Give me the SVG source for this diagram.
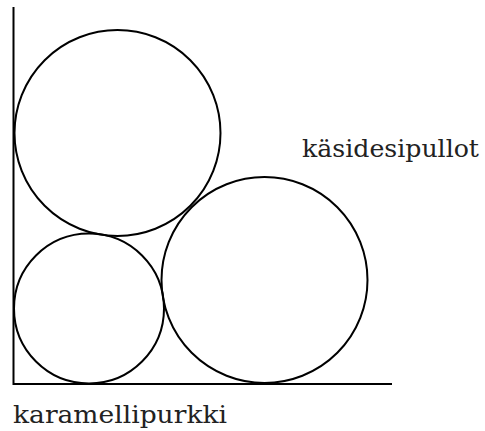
<svg xmlns="http://www.w3.org/2000/svg" width="485" height="431" viewBox="0 0 485 431">
<style>
.c{fill:none;stroke:#000;stroke-width:2}
.ax{fill:none;stroke:#000;stroke-width:2}
.t{font-family:"DejaVu Serif","Liberation Serif",serif;font-size:25px;fill:#222}
</style>
<rect width="485" height="431" fill="#fff"/>
<g id="axes">
<path class="ax" d="M13.5,7 V384 H392"/>
</g>
<g id="circle-top"><circle class="c" cx="117.5" cy="133" r="103"/></g>
<g id="circle-bottom-left"><circle class="c" cx="89" cy="308.5" r="75"/></g>
<g id="circle-right"><circle class="c" cx="264.5" cy="280" r="103"/></g>
<g id="label-x"><text class="t" x="13" y="423" textLength="214" lengthAdjust="spacingAndGlyphs">karamellipurkki</text></g>
<g id="label-y"><text class="t" x="302" y="157" textLength="177" lengthAdjust="spacingAndGlyphs">käsidesipullot</text></g>
</svg>
